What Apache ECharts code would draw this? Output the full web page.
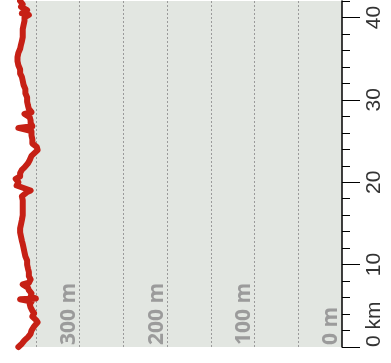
<!DOCTYPE html>
<html>
<head>
<meta charset="utf-8">
<script src="https://cdn.jsdelivr.net/npm/echarts@6/dist/echarts.min.js"></script>
<style>
html,body{margin:0;padding:0;background:#fff;}
#chart{width:391px;height:363px;}
</style>
</head>
<body>
<div id="chart"></div>
<script>
// distance along route (km)
const km = [0.0,0.4,0.8,1.2,1.6,2.0,2.5,3.0,3.3,3.7,4.1,4.4,4.8,5.2,5.5,5.8,5.9,6.1,6.5,6.9,7.2,7.6,7.8,8.2,8.6,9.1,9.5,10.0,10.5,11.0,11.5,12.0,12.5,12.9,13.4,13.9,14.4,14.9,15.4,16.0,16.6,17.2,17.8,18.3,18.8,19.0,19.3,19.6,20.0,20.4,20.7,21.1,21.5,21.8,22.3,22.7,23.2,23.5,23.9,24.3,24.7,25.2,25.7,26.2,26.6,26.8,27.2,27.5,27.9,28.3,28.5,28.9,29.3,29.8,30.3,30.8,31.3,31.8,32.3,32.8,33.2,33.7,34.2,34.7,35.2,35.7,36.2,36.7,37.1,37.6,38.1,38.6,39.1,39.6,40.0,40.3,40.5,40.9,41.3,41.6,42.0];
// elevation (m)
const elev = [370,366,363,359,356,355,352,348,350,354,352,354,356,357,355,368,350,356,355,358,359,365,358,356,358,358,359,360,360,362,363,364,365,366,367,368,368,367,366,365,365,365,365,366,360,356,364,372,370,373,368,368,366,363,359,357,355,352,348,349,354,354,355,355,370,354,356,356,357,363,355,358,359,360,360,362,362,364,365,366,368,368,370,371,371,370,368,367,366,365,365,365,364,363,363,358,366,360,367,365,368];
const kmTicks = [0,10,20,30,40];
const elevLabels = [0,100,200,300];

const chart = echarts.init(document.getElementById('chart'), null, {renderer:'canvas'});
const lineData = km.map((k,i)=>[elev[i],k]);

const option = {
  animation:false,
  grid:{left:0,right:49,top:1,bottom:16},
  xAxis:{
    type:'value', inverse:true, min:0, max:391, interval:50,
    axisLine:{show:false}, axisTick:{show:false},
    splitLine:{show:true, showMinLine:false, showMaxLine:false,
      lineStyle:{color:'#9a9a9a', width:1, type:[2,2]}},
    axisLabel:{
      inside:true, rotate:90, margin:2, align:'left', verticalAlign:'bottom',
      showMaxLabel:false,
      fontFamily:'Open Sans', fontWeight:'bold', fontSize:21, color:'#9b9b9b',
      formatter:(v)=> elevLabels.indexOf(v)>=0 ? v+' m' : ''
    }
  },
  yAxis:[{
    type:'value', position:'right', min:0, max:42, interval:2,
    axisLine:{show:true, lineStyle:{color:'#000', width:1.5}},
    axisTick:{show:true, length:8, lineStyle:{color:'#000', width:1}},
    axisLabel:{show:false},
    splitLine:{show:false}
  },{
    type:'value', position:'right', min:0, max:42, interval:10,
    axisLine:{show:false},
    axisTick:{show:true, length:18, customValues:kmTicks, lineStyle:{color:'#000', width:1}},
    axisLabel:{
      show:true, rotate:90, margin:22, customValues:kmTicks,
      alignMinLabel:'left',
      fontFamily:'Liberation Sans', fontSize:21, color:'#333',
      formatter:(v)=> v===0 ? '0 km' : String(v)
    },
    splitLine:{show:false}
  }],
  series:[{
    type:'custom', z:-1, silent:true,
    data:[[0,0]],
    renderItem:(params, api)=>{
      if (params.dataIndex !== 0) return null;
      const pts = km.map((k,i)=>api.coord([elev[i],k]));
      pts.push(api.coord([0, km[km.length-1]]));
      pts.push(api.coord([0, km[0]]));
      return {type:'polygon', shape:{points:pts}, style:{fill:'#e2e6e1'}};
    }
  },{
    type:'line', data:lineData, symbol:'none', clip:false, z:3,
    lineStyle:{color:'#c62015', width:6, cap:'round', join:'round'}
  }]
};
chart.setOption(option);
</script>
</body>
</html>
